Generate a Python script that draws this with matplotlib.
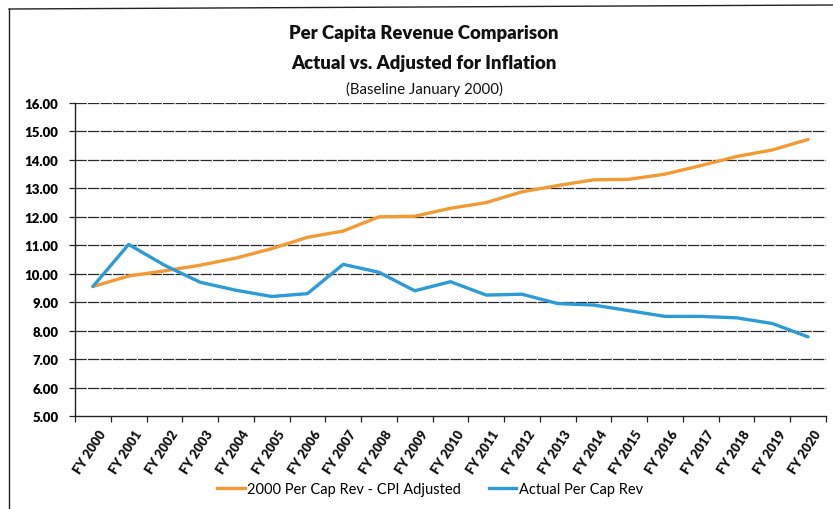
import matplotlib
matplotlib.use("Agg")
import matplotlib.pyplot as plt
from matplotlib.lines import Line2D

years = ["FY 2000", "FY 2001", "FY 2002", "FY 2003", "FY 2004", "FY 2005", "FY 2006",
         "FY 2007", "FY 2008", "FY 2009", "FY 2010", "FY 2011", "FY 2012", "FY 2013",
         "FY 2014", "FY 2015", "FY 2016", "FY 2017", "FY 2018", "FY 2019", "FY 2020"]
cpi_adjusted = [9.55, 9.92, 10.1, 10.3, 10.55, 10.88, 11.28, 11.5, 12.0, 12.02, 12.3,
                12.5, 12.88, 13.1, 13.3, 13.32, 13.5, 13.8, 14.12, 14.35, 14.72]
actual = [9.55, 11.03, 10.3, 9.7, 9.42, 9.2, 9.3, 10.33, 10.05, 9.4, 9.72, 9.25, 9.28,
          8.95, 8.9, 8.7, 8.5, 8.5, 8.45, 8.25, 7.78]
yticks = [5, 6, 7, 8, 9, 10, 11, 12, 13, 14, 15, 16]
series_names = ["2000 Per Cap Rev - CPI Adjusted", "Actual Per Cap Rev"]

ORANGE = "#F29B35"
BLUE = "#2D9BD6"
FONT = ["Lato", "DejaVu Sans"]
plt.rcParams["font.family"] = FONT

fig = plt.figure(figsize=(8.33, 5.10), dpi=100)
ax = fig.add_axes([75 / 833, 1 - 417 / 510, 751 / 833, 313 / 510])

x = list(range(len(years)))
ax.plot(x, cpi_adjusted, color=ORANGE, lw=2.4, solid_capstyle="round", zorder=3)
ax.plot(x, actual, color=BLUE, lw=2.4, solid_capstyle="round", zorder=3)

ax.set_xlim(-0.5, len(years) - 0.5)
ax.set_ylim(5, 16)
ax.set_yticks(yticks)
ax.set_yticklabels([f"{v:.2f}" for v in yticks], fontsize=9.5, fontweight="heavy")
for v in yticks[1:]:
    ax.axhline(v, color="#2a2a2a", lw=0.9, ls=(0, (9, 1.0)), zorder=1)

# category ticks between categories
ax.set_xticks([i - 0.5 for i in range(len(years) + 1)], minor=False)
ax.set_xticklabels([])
ax.tick_params(axis="x", length=4, width=0.9, color="#222222", direction="out")
ax.tick_params(axis="y", length=4, width=0.9, color="#222222", direction="out", pad=8)
for i, lab in enumerate(years):
    ax.text(i + 0.15, 4.6, lab, rotation=57, ha="right", va="top",
            rotation_mode="anchor", fontsize=9.3, fontweight="heavy", color="#111111",
            transform=ax.transData)

for s in ["top", "right"]:
    ax.spines[s].set_visible(False)
ax.spines["left"].set_color("#222222")
ax.spines["left"].set_linewidth(1.0)
ax.spines["bottom"].set_color("#222222")
ax.spines["bottom"].set_linewidth(1.0)

fig.text(424 / 833, 1 - 33 / 510, "Per Capita Revenue Comparison", ha="center", va="center",
         fontsize=13.3, fontweight="heavy", color="#111111")
fig.text(424 / 833, 1 - 63 / 510, "Actual vs. Adjusted for Inflation", ha="center", va="center",
         fontsize=13.3, fontweight="heavy", color="#111111")
fig.text(424 / 833, 1 - 89 / 510, "(Baseline January 2000)", ha="center", va="center",
         fontsize=10.8, color="#111111")

handles = [Line2D([], [], color=ORANGE, lw=2.4), Line2D([], [], color=BLUE, lw=2.4)]
fig.legend(handles, series_names, loc="center", bbox_to_anchor=(430 / 833, 1 - 490 / 510),
           ncol=2, frameon=False, fontsize=10.5, handlelength=1.9, handletextpad=0.15,
           columnspacing=1.9)

# chart border (partial, as in the scan)
fig.add_artist(Line2D([9 / 833, 9 / 833], [0, 1 - 10 / 510], color="#222222", lw=1.0,
                      transform=fig.transFigure))
fig.add_artist(Line2D([9 / 833, 1], [1 - 10 / 510, 1 - 6 / 510], color="#222222", lw=1.0,
                      transform=fig.transFigure))

fig.savefig("out.png", dpi=100)
